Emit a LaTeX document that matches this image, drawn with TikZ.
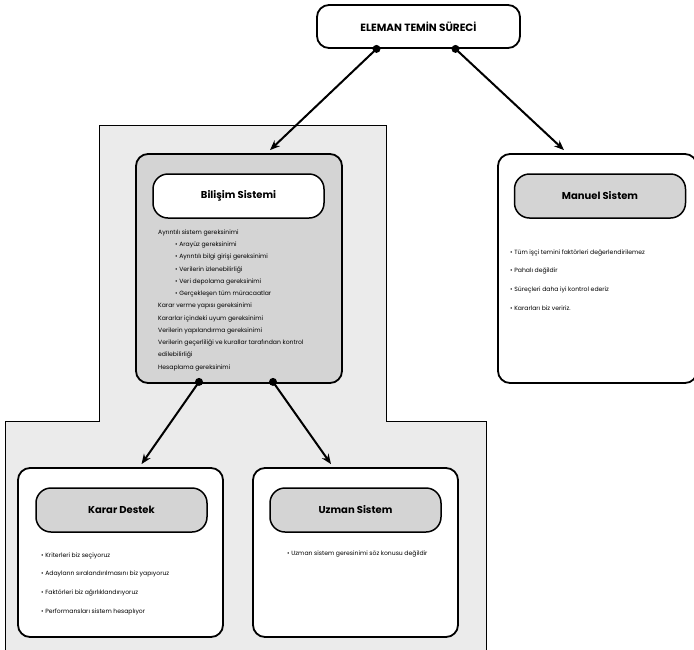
\documentclass[tikz,border=0pt]{standalone}
\usepackage{fontspec}
\setmainfont{Poppins}
\usetikzlibrary{arrows.meta,calc}
\tikzset{
  outerbox/.style={draw=black, line width=1.8pt, rounded corners=12pt, inner sep=0pt},
  titlebox/.style={draw=black, line width=1.5pt, rounded corners=15pt, inner sep=0pt, minimum width=171pt, minimum height=44pt, font=\fontsize{10}{11}\selectfont\bfseries},
  txt/.style={inner sep=0pt, align=left, anchor=north west, font=\fontsize{6.1}{12.25}\selectfont},
  bullets/.style={inner sep=0pt, align=left, anchor=north west, font=\fontsize{6.1}{18.6}\selectfont},
  arr/.style={line width=2pt, -{Stealth[length=10pt,width=8pt]}},
  dot/.style={circle, fill=black, inner sep=0pt, minimum size=8pt}
}
\definecolor{bgray}{HTML}{EBEBEB}
\definecolor{mgray}{HTML}{D4D4D4}
\begin{document}
\begin{tikzpicture}[x=1pt,y=-1pt]
\useasboundingbox (0,0) rectangle (694,649);
\fill[white] (0,0) rectangle (694,649);
% gray background region
\draw[fill=bgray, line width=1pt] (99,125) -- (386,125) -- (386,421) -- (486,421) -- (486,655) -- (5,655) -- (5,421) -- (99,421) -- cycle;

% top node
\node[outerbox, fill=white, minimum width=203pt, minimum height=43pt, font=\fontsize{10.5}{12}\selectfont\bfseries] (top) at (418.5,26.5) {ELEMAN TEMİN SÜRECİ};

% Bilisim
\node[outerbox, fill=mgray, minimum width=206pt, minimum height=229pt] (bil) at (239,268.5) {};
\node[titlebox, fill=white] (bilt) at (238.5,196) {Bilişim Sistemi};
\node[txt] (biltxt) at (158,229.5) {Ayrıntılı sistem gereksinimi\\
\hspace*{17pt}• Arayüz gereksinimi\\
\hspace*{17pt}• Ayrıntılı bilgi girişi gereksinimi\\
\hspace*{17pt}• Verilerin izlenebilirliği\\
\hspace*{17pt}• Veri depolama gereksinimi\\
\hspace*{17pt}• Gerçekleşen tüm müracaatlar\\
Karar verme yapısı gereksinimi\\
Kararlar içindeki uyum gereksinimi\\
Verilerin yapılandırma gereksinimi\\
Verilerin geçerliliği ve kurallar tarafından kontrol\\
edilebilirliği\\
Hesaplama gereksinimi};

% Manuel
\node[outerbox, fill=white, minimum width=199pt, minimum height=229pt] (man) at (597.5,268.5) {};
\node[titlebox, fill=mgray] (mant) at (600,196) {Manuel Sistem};
\node[bullets] (mantxt) at (510,249.5) {• Tüm işçi temini faktörleri değerlendirilemez\\
• Pahalı değildir\\
• Süreçleri daha iyi kontrol ederiz\\
• Kararları biz veririz.};

% Karar Destek
\node[outerbox, fill=white, minimum width=205pt, minimum height=169pt] (kar) at (120.5,552.5) {};
\node[titlebox, fill=mgray] (kart) at (121.5,510) {Karar Destek};
\node[bullets] (kartxt) at (41,552.5) {• Kriterleri biz seçiyoruz\\
• Adayların sıralandırılmasını biz yapıyoruz\\
• Faktörleri biz ağırlıklandırıyoruz\\
• Performansları sistem hesaplıyor};

% Uzman
\node[outerbox, fill=white, minimum width=205pt, minimum height=169pt] (uzm) at (355.5,552.5) {};
\node[titlebox, fill=mgray] (uzmt) at (355.5,510) {Uzman Sistem};
\node[bullets] (uzmtxt) at (287,550.5) {• Uzman sistem geresinimi söz konusu değildir};

% connectors
\coordinate (s1) at ($(top.south)+(-42,0)$);
\coordinate (s2) at ($(top.south)+(37,0)$);
\coordinate (e1) at ($(bil.north)+(31,-3)$);
\coordinate (e2) at ($(man.north)+(-33.5,-3)$);
\coordinate (s3) at ($(bil.south)+(-40,-2)$);
\coordinate (s4) at ($(bil.south)+(34,-2)$);
\coordinate (e3) at ($(kar.north)+(21,-3)$);
\coordinate (e4) at ($(uzm.north)+(-24.5,-3)$);
\draw[arr] (s1) -- (e1);
\draw[arr] (s2) -- (e2);
\draw[arr] (s3) -- (e3);
\draw[arr] (s4) -- (e4);
\node[dot] at (s1) {};
\node[dot] at (s2) {};
\node[dot] at (s3) {};
\node[dot] at (s4) {};
\end{tikzpicture}
\end{document}
